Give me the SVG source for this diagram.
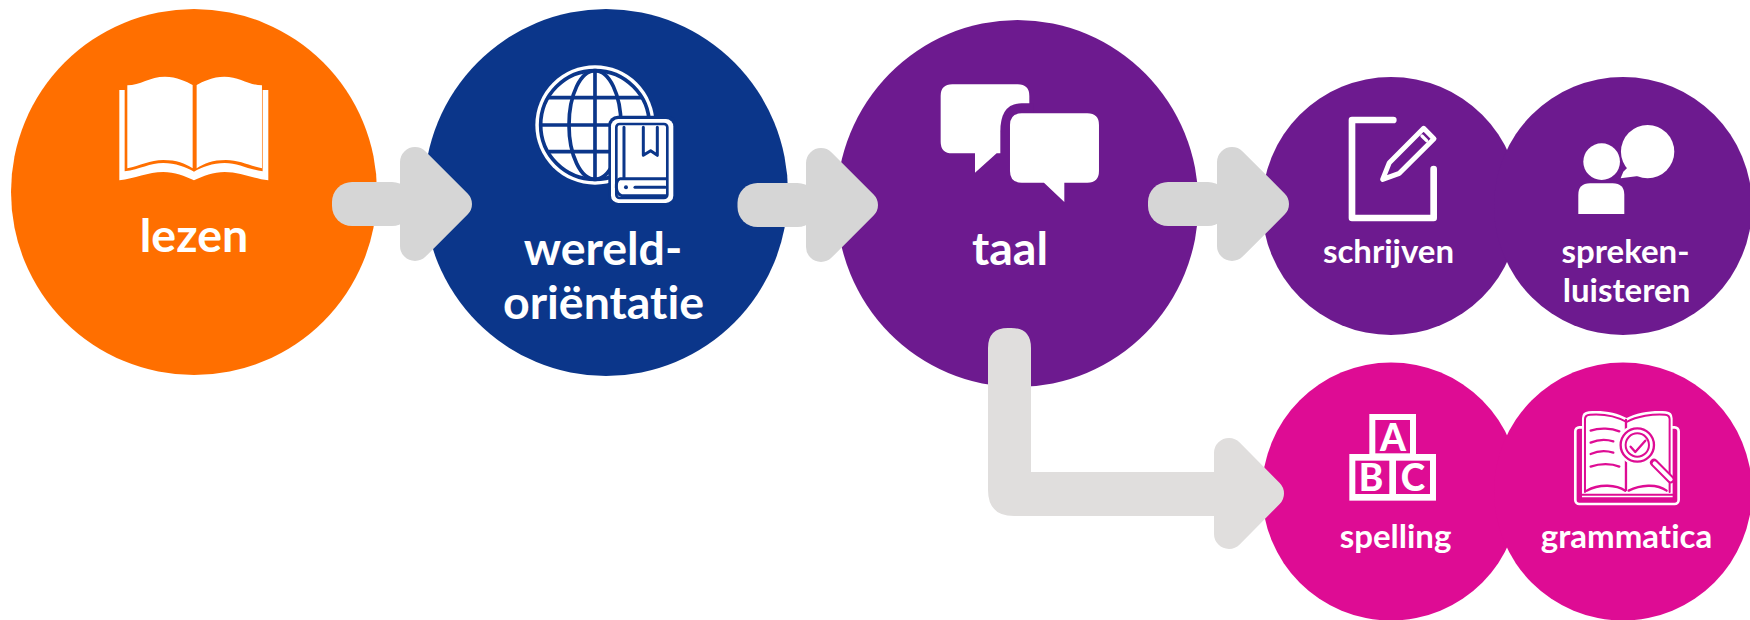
<svg xmlns="http://www.w3.org/2000/svg" width="1750" height="620" viewBox="0 0 1750 620">
<style>
text{font-family:Lato,"Liberation Sans",sans-serif;font-weight:700;fill:#fff;text-anchor:middle;font-variant-ligatures:none}
.big{font-size:46.500px}.small{font-size:33px}.glyph{font-size:37px;font-weight:900}
.or{fill:#ff6f00}.bl{fill:#0b368a}.pu{fill:#6d1a8f}.ma{fill:#de0c94}
.w{fill:#fff}.nf{fill:none;stroke-linecap:round;stroke-linejoin:round}
.a1{fill:#d6d6d6}.a2{fill:#e0dedd}
.h1{fill:#d6d6d6;stroke:#d6d6d6;stroke-width:30;stroke-linejoin:round}
.h2{fill:#e0dedd;stroke:#e0dedd;stroke-width:30;stroke-linejoin:round}
</style>
<rect width="1750" height="620" fill="#fff"/>
<g id="node-lezen">
<circle class="or" cx="194" cy="192" r="183"/>
<g transform="scale(.3333)">
<path class="w" d="M382 256C420 256 450 230 495 230C530 230 560 245 578 255V505C555 490 530 480 490 480C450 480 420 497 382 505Z"/>
<path class="w" d="M786 256C748 256 718 230 673 230C638 230 608 245 590 255V505C613 490 638 480 678 480C718 480 748 497 786 505Z"/>
<path class="w" d="M358 270H374V514C420 508 450 489 490 489C525 489 560 502 582 515C604 502 639 489 674 489C714 489 744 508 788 514V270H805V541C760 536 720 516 674 516C640 516 610 528 582 541C554 528 524 516 490 516C444 516 404 536 358 541Z"/>
</g>
<text class="big" x="194" y="252">lezen</text>
</g>
<g id="node-wereldorientatie">
<ellipse class="bl" cx="606" cy="192.500" rx="182" ry="183.500"/>
<g transform="translate(480 50) scale(.3333)">
<circle class="w" cx="345" cy="225" r="179"/>
<g class="nf" stroke="#0b368a" stroke-width="11">
<circle cx="345" cy="225" r="163"/>
<ellipse cx="345" cy="225" rx="78" ry="163"/>
<path d="M345 63V387M205 143H485M183 225H507M205 305H485"/>
</g>
<rect class="bl" x="385" y="197" width="205" height="270" rx="28"/>
<rect class="w" x="393" y="207" width="187" height="252" rx="22"/>
<rect class="nf" x="409" y="222" width="153" height="222" rx="10" stroke="#0b368a" stroke-width="8"/>
<path class="w" d="M416 230H555V384H416Z"/>
<path class="nf" d="M432 232V384M418 387C405 395 405 432 425 437H558M490 232V316L512 302L532 316V232M420 386H558" stroke="#0b368a" stroke-width="9"/>
<path class="nf" d="M465 412H556" stroke="#0b368a" stroke-width="9"/>
<circle class="bl" cx="438" cy="412" r="6"/>
</g>
<text class="big" x="603" y="265">wereld-</text>
<text class="big" x="603.500" y="319">oriëntatie</text>
</g>
<g id="node-taal">
<ellipse class="pu" cx="1017.500" cy="203.500" rx="181" ry="183.500"/>
<g transform="translate(900 50) scale(.3333)">
<path class="w" d="M157 103H353Q388 103 388 138V310H290L225 368V310H157Q122 310 122 275V138Q122 103 157 103Z"/>
<path class="pu" d="M392 160H365Q301 160 301 245V315H400V160Z"/>
<path class="w" d="M365 190H562Q597 190 597 225V363Q597 398 562 398H493V456L432 398H365Q330 398 330 363V225Q330 190 365 190Z"/>
</g>
<text class="big" x="1010" y="265">taal</text>
</g>
<g id="node-schrijven">
<circle class="pu" cx="1391" cy="206" r="129"/>
<g transform="translate(1300 80) scale(.3333)">
<path class="nf" d="M280 120H156V414H401V267" stroke="#fff" stroke-width="20" stroke-linejoin="miter"/>
<path class="nf" d="M248 298L268 248L371 145L402 176L298 280Z" stroke="#fff" stroke-width="15"/>
<path class="nf" d="M366 168L380 182" stroke="#fff" stroke-width="10"/>
</g>
<text class="small" x="1388.500" y="263">schrijven</text>
</g>
<g id="node-spreken-luisteren">
<circle class="pu" cx="1623" cy="206" r="129"/>
<g transform="translate(1300 80) scale(.3333)">
<circle class="w" cx="905" cy="245" r="55"/>
<path class="w" d="M835 402V345Q835 310 870 310H938Q973 310 973 345V402Z"/>
<circle class="w" cx="1043" cy="215" r="80"/>
<path class="w" d="M985 260L970 275L962 295L1015 288Z"/>
</g>
<text class="small" x="1625.500" y="263">spreken-</text>
<text class="small" x="1626.500" y="302">luisteren</text>
</g>
<g id="node-spelling">
<circle class="ma" cx="1391" cy="491.500" r="129"/>
<g transform="translate(1300 390) scale(.3333)">
<rect class="w" x="208" y="72" width="140" height="130"/>
<rect class="w" x="148" y="192" width="260" height="140"/>
<rect class="ma" x="226" y="90" width="104" height="100"/>
<rect class="ma" x="166" y="212" width="102" height="100"/>
<rect class="ma" x="288" y="212" width="102" height="100"/>
</g>
<text class="glyph" x="1393" y="451">A</text>
<text class="glyph" x="1371" y="491">B</text>
<text class="glyph" x="1413" y="491">C</text>
<text class="small" x="1395.500" y="548">spelling</text>
</g>
<g id="node-grammatica">
<circle class="ma" cx="1623" cy="491.500" r="129"/>
<g transform="translate(1300 390) scale(.3333)">
<rect class="nf" x="826" y="112" width="310" height="230" rx="12" stroke="#fff" stroke-width="8"/>
<path class="w" d="M846 322V85Q846 66 866 64C910 60 950 68 980 84C1010 68 1060 60 1098 64Q1118 66 1118 85V322Z"/>
<path class="nf" d="M855 306V88Q855 75 870 74C910 71 950 79 980 96C1010 79 1060 71 1095 74Q1109 75 1109 88V306M846 314H1118" stroke="#de0c94" stroke-width="6"/>
<path class="nf" d="M872 122C900 112 935 115 958 124M872 158C895 148 920 148 940 154M872 192C895 182 920 182 940 188M872 230C900 220 935 220 958 230M978 90V300M860 302C900 280 950 285 976 302M986 302C1020 285 1070 280 1100 302" stroke="#de0c94" stroke-width="7"/>
<circle class="w" cx="1012" cy="165" r="60"/>
<circle class="nf" cx="1012" cy="165" r="50" stroke="#de0c94" stroke-width="7"/>
<circle class="nf" cx="1012" cy="165" r="35" stroke="#de0c94" stroke-width="6"/>
<path class="nf" d="M992 170L1006 186L1036 152" stroke="#de0c94" stroke-width="7"/>
<path class="nf" d="M1062 218L1112 268" stroke="#de0c94" stroke-width="24"/>
<path class="nf" d="M1064 220L1112 268" stroke="#fff" stroke-width="12"/>
</g>
<text class="small" x="1626.500" y="548">grammatica</text>
</g>
<g id="connectors">
<g id="arrow-lezen-wereld">
<rect class="a1" x="332" y="182" width="80" height="44" rx="20"/>
<path class="h1" d="M415 162V246L457 204Z"/>
</g>
<g id="arrow-wereld-taal">
<rect class="a1" x="737.500" y="183" width="80" height="44" rx="20"/>
<path class="h1" d="M821 163V247L863 205Z"/>
</g>
<g id="arrow-taal-schrijven">
<rect class="a1" x="1148" y="182" width="80" height="44" rx="20"/>
<path class="h1" d="M1232 162V246L1274 204Z"/>
</g>
<g id="arrow-taal-spelling">
<path class="a2" d="M1008 328H1011Q1031 328 1031 348V472H1230V516H1014Q988 516 988 490V348Q988 328 1008 328Z"/>
<path class="h2" d="M1229 453V534L1269 493.500Z"/>
</g>
</g>
</svg>
